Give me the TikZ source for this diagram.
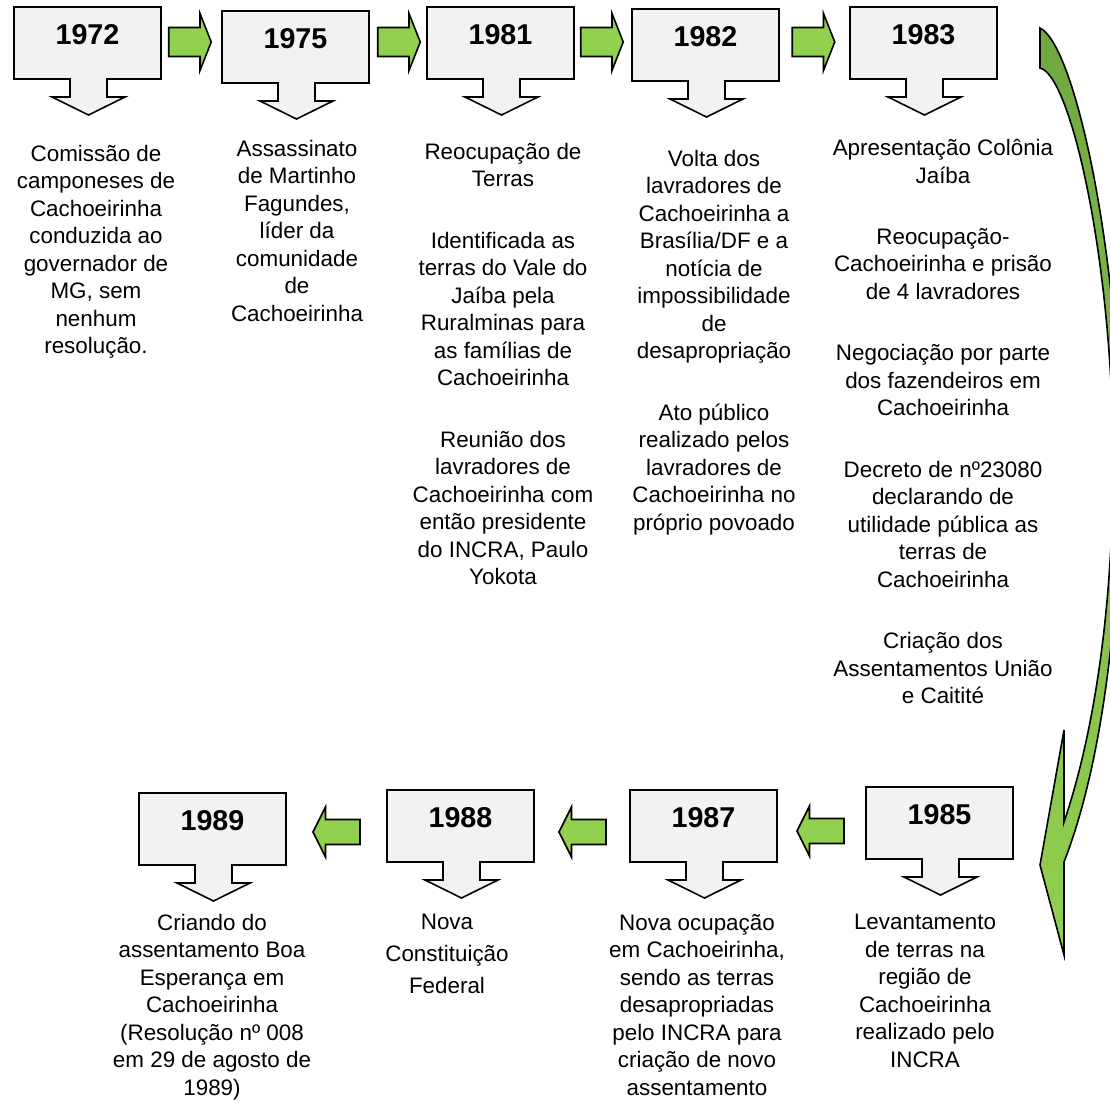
\documentclass[tikz,border=0pt]{standalone}
\usepackage{fontspec}
\setmainfont{Liberation Sans}
\usetikzlibrary{
        calc,
        positioning
    }
\definecolor{boxgray}{HTML}{F2F2F2}
\definecolor{arrowgreen}{HTML}{92D050}
\definecolor{olivegreen}{HTML}{70A840}
\tikzset{x=0.75pt,y=-0.75pt}
\tikzset{
    callout/.style={draw=black,line width=1.2pt,fill=boxgray,line join=miter},
    year/.style={font=\fontsize{21.5}{25}\selectfont\bfseries,inner sep=0pt},
    desc/.style={align=center,anchor=north,inner sep=0pt,
        font=\fontsize{16.8}{20.6}\selectfont},
    blockarrow/.style={draw=black,line width=1.2pt,fill=arrowgreen,line join=miter}
}
% callout box: name, top left corner, year
\newcommand\yearbox[3]{%
    \draw[callout] (#2) -- ++(147,0) -- ++(0,72) -- ++(-54,0) -- ++(0,18)
        -- ++(18,0) -- ++(-36.5,18) -- ++(-36.5,-18) -- ++(18,0) -- ++(0,-18)
        -- ++(-56,0) -- cycle;
    \node[year] (#1) at ($(#2)+(73.5,28)$) {#3};}
\newcommand\arrowright[1]{%
    \draw[blockarrow,shift={(#1)}] (-21.25,-14.5) -- (10,-14.5) -- (10,-28.5)
        -- (21.25,0) -- (10,28.5) -- (10,14.5) -- (-21.25,14.5) -- cycle;}
\newcommand\arrowleft[1]{%
    \draw[blockarrow,shift={(#1)}] (23.5,-12.5) -- (-11,-12.5) -- (-11,-25)
        -- (-23.5,0) -- (-11,25) -- (-11,12.5) -- (23.5,12.5) -- cycle;}

\begin{document}
\begin{tikzpicture}
    \useasboundingbox (0,0) rectangle (1110,1101);
    % curved arrow on the right
    \begin{scope}
        \clip (0,0) rectangle (1110,1101);
        \draw[line width=1.2pt,line join=miter,top color=olivegreen,bottom color=arrowgreen]
            (1040,28) .. controls (1075,45) and (1118,250) .. (1120,440)
            .. controls (1122,620) and (1100,770) .. (1064,862)
            -- (1064,955) -- (1040,865) -- (1064,730) -- (1064,822)
            .. controls (1092,740) and (1115,610) .. (1113,440)
            .. controls (1110,250) and (1070,75) .. (1040,68) -- cycle;
    \end{scope}

    % top row
    \yearbox{y1972}{14,7}{1972}
    \yearbox{y1975}{222,11}{1975}
    \yearbox{y1981}{427,7}{1981}
    \yearbox{y1982}{632,9}{1982}
    \yearbox{y1983}{850,7}{1983}
    \arrowright{190,42}
    \arrowright{399,42}
    \arrowright{602,42}
    \arrowright{813.5,42}

    \node[desc] (d1972) at (96,145) {Comissão de\\camponeses de\\Cachoeirinha\\conduzida ao\\governador de\\MG, sem\\nenhum\\resolução.};
    \node[desc] (d1975) at (297,140) {Assassinato\\de Martinho\\Fagundes,\\líder da\\comunidade\\de\\Cachoeirinha};
    \node[desc] (d1981) at (503,143) {Reocupação de\\Terras\\[25.5pt]Identificada as\\terras do Vale do\\Jaíba pela\\Ruralminas para\\as famílias de\\Cachoeirinha\\[25.5pt]Reunião dos\\lavradores de\\Cachoeirinha com\\então presidente\\do INCRA, Paulo\\Yokota};
    \node[desc] (d1982) at (714,150) {Volta dos\\lavradores de\\Cachoeirinha a\\Brasília/DF e a\\notícia de\\impossibilidade\\de\\desapropriação\\[25.5pt]Ato público\\realizado pelos\\lavradores de\\Cachoeirinha no\\próprio povoado};
    \node[desc] (d1983) at (943,139) {Apresentação Colônia\\Jaíba\\[25.5pt]Reocupação-\\Cachoeirinha e prisão\\de 4 lavradores\\[25.5pt]Negociação por parte\\dos fazendeiros em\\Cachoeirinha\\[25.5pt]Decreto de nº23080\\declarando de\\utilidade pública as\\terras de\\Cachoeirinha\\[25.5pt]Criação dos\\Assentamentos União\\e Caitité};

    % bottom row
    \yearbox{y1989}{139,793}{1989}
    \yearbox{y1988}{387,790}{1988}
    \yearbox{y1987}{630,790}{1987}
    \yearbox{y1985}{866,787}{1985}
    \arrowleft{336.5,832}
    \arrowleft{582.5,832}
    \arrowleft{820.5,831}

    \node[desc] (d1989) at (212,914) {Criando do\\assentamento Boa\\Esperança em\\Cachoeirinha\\(Resolução nº 008\\em 29 de agosto de\\1989)};
    \node[desc,font=\fontsize{16.8}{24}\selectfont] (d1988) at (447,914) {Nova\\Constituição\\Federal};
    \node[desc] (d1987) at (697,914) {Nova ocupação\\em Cachoeirinha,\\sendo as terras\\desapropriadas\\pelo INCRA para\\criação de novo\\assentamento};
    \node[desc] (d1985) at (925,914) {Levantamento\\de terras na\\região de\\Cachoeirinha\\realizado pelo\\INCRA};
\end{tikzpicture}
\end{document}
